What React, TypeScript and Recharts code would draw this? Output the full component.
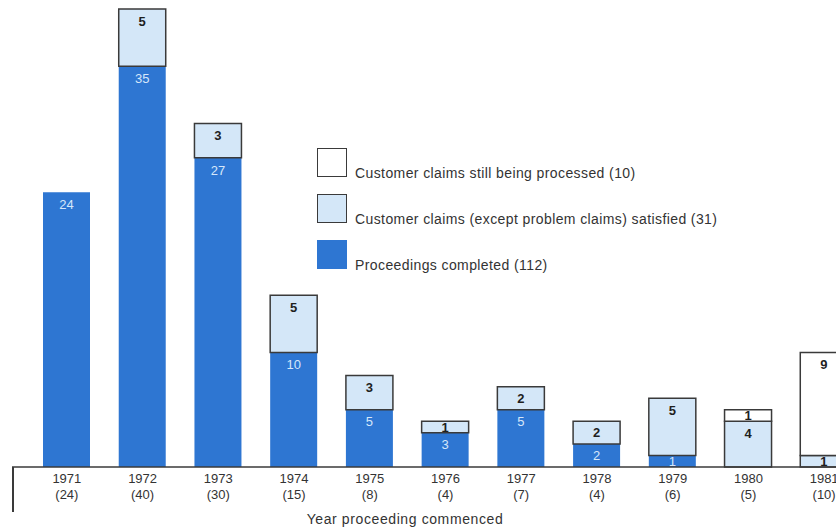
import React from 'react';
import { BarChart, Bar, XAxis, YAxis, Legend, LabelList } from 'recharts';

// Years and what happened to the proceedings started in each of them
const years = ['1971', '1972', '1973', '1974', '1975', '1976', '1977', '1978', '1979', '1980', '1981'];
const completed = [24, 35, 27, 10, 5, 3, 5, 2, 1, 0, 0];
const satisfied = [0, 5, 3, 5, 3, 1, 2, 2, 5, 4, 1];
const processing = [0, 0, 0, 0, 0, 0, 0, 0, 0, 1, 9];

const legendNames = [
    'Customer claims still being processed (10)',
    'Customer claims (except problem claims) satisfied (31)',
    'Proceedings completed (112)',
];

const darkBlue = '#2e76d2';
const lightBlue = '#d4e7f8';
const edge = '#3a3a3a';
const textColor = '#333333';
const font = '"Liberation Sans", Arial, Helvetica, sans-serif';

const data = years.map((year, i) => ({
    year,
    total: completed[i] + satisfied[i] + processing[i],
    completed: completed[i],
    satisfied: satisfied[i],
    processing: processing[i],
}));

const YearTick = (props: any) => {
    const { x, y, payload, index } = props;
    const row = data[index] || data.find((d) => d.year === payload.value);
    return (
        <g>
            <text x={x} y={y + 16} textAnchor="middle" fontSize={13} fill={textColor} fontFamily={font}>
                {payload.value}
            </text>
            <text x={x} y={y + 32} textAnchor="middle" fontSize={13} fill={textColor} fontFamily={font}>
                ({row ? row.total : ''})
            </text>
        </g>
    );
};

const segmentLabel = (color: string, weight: string) => (props: any) => {
    const { x, y, width, height, value } = props;
    if (!value) return null;
    const cy = y + Math.min(12, height / 2);
    return (
        <text
            x={x + width / 2}
            y={cy}
            dy="0.36em"
            textAnchor="middle"
            fontSize={13}
            fontWeight={weight}
            fill={color}
            fontFamily={font}
        >
            {value}
        </text>
    );
};

const LegendBox = () => {
    const fills = ['#ffffff', lightBlue, darkBlue];
    return (
        <div style={{ fontFamily: font, fontSize: 14, letterSpacing: 0.4, color: textColor }}>
            {legendNames.map((name, i) => (
                <div key={name} style={{ display: 'flex', alignItems: 'flex-end', height: 30, marginBottom: 16 }}>
                    <div
                        style={{
                            width: 28,
                            height: 27,
                            flexShrink: 0,
                            background: fills[i],
                            border: i < 2 ? `1.5px solid ${edge}` : `1.5px solid ${darkBlue}`,
                        }}
                    />
                    <span style={{ marginLeft: 8, lineHeight: '14px', position: 'relative', top: 3, whiteSpace: 'nowrap' }}>
                        {name}
                    </span>
                </div>
            ))}
        </div>
    );
};

export default function App() {
    return (
        <div style={{ position: 'absolute', left: 0, top: 0, width: 836, height: 529, overflow: 'hidden', background: '#ffffff' }}>
            <BarChart
                width={862}
                height={529}
                data={data}
                margin={{ top: 9, right: 0, left: 12, bottom: 0 }}
                barSize={47}
            >
                <XAxis
                    dataKey="year"
                    height={62}
                    padding={{ left: 17, right: 0 }}
                    axisLine={{ stroke: edge, strokeWidth: 1.5 }}
                    tickLine={false}
                    tickSize={0}
                    tickMargin={0}
                    interval={0}
                    tick={<YearTick />}
                    label={{
                        value: 'Year proceeding commenced',
                        position: 'insideBottom',
                        offset: 5,
                        dx: -32,
                        fontSize: 14,
                        fill: textColor,
                        fontFamily: font,
                        letterSpacing: 0.6,
                    }}
                />
                <YAxis hide domain={[0, 40]} />
                <Legend
                    layout="vertical"
                    align="center"
                    verticalAlign="middle"
                    content={() => <LegendBox />}
                    wrapperStyle={{ position: 'absolute', left: 317, top: 147, width: 440 }}
                />
                <Bar dataKey="completed" stackId="a" fill={darkBlue} name="Proceedings completed (112)" isAnimationActive={false}>
                    <LabelList dataKey="completed" content={segmentLabel('#d6e7fa', 'normal')} />
                </Bar>
                <Bar
                    dataKey="satisfied"
                    stackId="a"
                    fill={lightBlue}
                    stroke={edge}
                    strokeWidth={1.5}
                    name="Customer claims (except problem claims) satisfied (31)"
                    isAnimationActive={false}
                >
                    <LabelList dataKey="satisfied" content={segmentLabel('#1f1f1f', 'bold')} />
                </Bar>
                <Bar
                    dataKey="processing"
                    stackId="a"
                    fill="#ffffff"
                    stroke={edge}
                    strokeWidth={1.5}
                    name="Customer claims still being processed (10)"
                    isAnimationActive={false}
                >
                    <LabelList dataKey="processing" content={segmentLabel('#1f1f1f', 'bold')} />
                </Bar>
            </BarChart>
            <div style={{ position: 'absolute', left: 12, top: 467, width: 1.5, height: 45, background: edge }} />
        </div>
    );
}
